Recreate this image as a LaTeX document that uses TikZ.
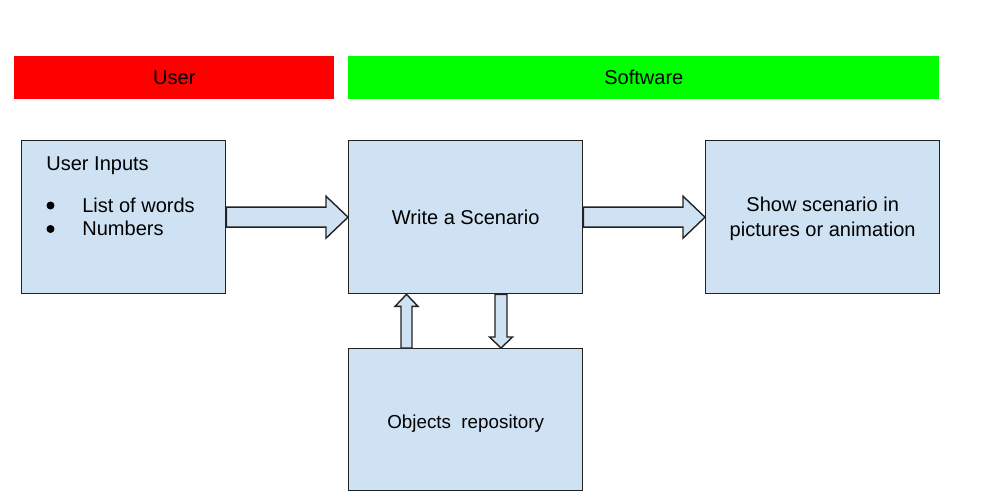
\documentclass[tikz,border=0pt]{standalone}
\usepackage{fontspec}
\setmainfont{Liberation Sans}
\usetikzlibrary{calc}

\definecolor{boxblue}{HTML}{CFE2F3}
\definecolor{edge}{HTML}{222222}

\begin{document}
\begin{tikzpicture}[x=0.02cm, y=-0.02cm, font=\fontsize{11.4}{13.7}\selectfont,
        bar/.style={inner sep=0pt, anchor=north west, minimum height=0.86cm},
        box/.style={draw=edge, fill=boxblue, line width=0.8pt, inner sep=0pt, anchor=north west, align=center},
        blockarrow/.style={draw=edge, fill=boxblue, line width=0.8pt, line join=miter}]

        \useasboundingbox (0, 0) rectangle (1000, 500);

        % header bars
        \node[bar, fill=red, minimum width=6.4cm] (user) at (14, 56) {User};
        \node[bar, fill=green, minimum width=11.82cm] (software) at (348, 56) {Software};

        % boxes
        \node[box, minimum width=4.08cm, minimum height=3.06cm] (inputs) at (21, 140) {};
        \node[box, minimum width=4.68cm, minimum height=3.06cm] (scenario) at (348, 140) {Write a Scenario};
        \node[box, minimum width=4.68cm, minimum height=3.06cm] (show) at (705, 140)
            {\raisebox{-0.04cm}[\height][\depth]{\begin{tabular}{@{}c@{}}Show scenario in\\pictures or animation\end{tabular}}};
        \node[box, minimum width=4.68cm, minimum height=2.84cm, font=\fontsize{10.7}{12.8}\selectfont] (repo) at (348, 348)
            {\raisebox{-0.08cm}[\height][\depth]{Objects\ \ repository}};

        \node[anchor=base west, inner sep=0pt] (title) at (46, 170) {User Inputs};
        \foreach \t [count=\i] in {List of words, Numbers} {
            \node[circle, fill=black, inner sep=0pt, minimum size=0.16cm] (dot\i) at (50.5, 182 + 23.5*\i) {};
            \node[anchor=base west, inner sep=0pt] (item\i) at (82, 188.5 + 23.5*\i) {\t};
        }

        % block arrows
        \draw[blockarrow] ($(inputs.east) + (0, -10)$) -- ($(scenario.west) + (-22, -10)$) -- ++(0, -11)
            -- (scenario.west) -- ($(scenario.west) + (-22, 21)$) -- ++(0, -11) -- ($(inputs.east) + (0, 10)$) -- cycle;
        \draw[blockarrow] ($(scenario.east) + (0, -10)$) -- ($(show.west) + (-22, -10)$) -- ++(0, -11)
            -- (show.west) -- ($(show.west) + (-22, 21)$) -- ++(0, -11) -- ($(scenario.east) + (0, 10)$) -- cycle;

        \coordinate (uptip) at ($(scenario.south west) + (58.5, 0)$);
        \coordinate (upbase) at ($(repo.north west) + (58.5, 0)$);
        \draw[blockarrow] ($(upbase) + (-5.5, 0)$) -- ($(uptip) + (-5.5, 12)$) -- ++(-6, 0) -- (uptip)
            -- ($(uptip) + (11.5, 12)$) -- ++(-6, 0) -- ($(upbase) + (5.5, 0)$) -- cycle;

        \coordinate (downtop) at ($(scenario.south west) + (153, 0)$);
        \coordinate (downtip) at ($(repo.north west) + (153, 0)$);
        \draw[blockarrow] ($(downtop) + (-6, 0)$) -- ($(downtip) + (-6, -11)$) -- ++(-5.5, 0) -- (downtip)
            -- ($(downtip) + (11.5, -11)$) -- ++(-5.5, 0) -- ($(downtop) + (6, 0)$) -- cycle;
\end{tikzpicture}
\end{document}
